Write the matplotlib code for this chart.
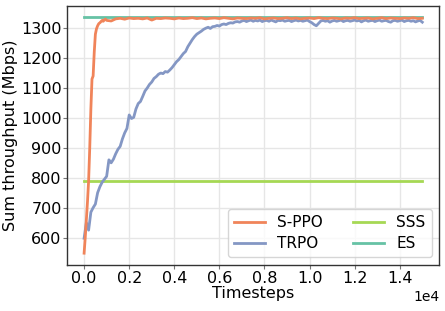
import numpy as np
import matplotlib
matplotlib.use("Agg")
import matplotlib.pyplot as plt
from matplotlib.ticker import MultipleLocator

# ---- data ----
sppo_steps_early = [0, 50, 100, 150, 200, 250, 300, 350, 400, 450, 500,
                    550, 600, 650, 700, 750, 800, 850, 900, 950, 1000]
sppo_early = [548, 600, 660, 720, 790, 900, 1030, 1130, 1140, 1220, 1280,
              1298, 1308, 1315, 1318, 1322, 1326, 1323, 1328, 1330, 1326]
sppo_steps_late = np.arange(1200, 15001, 200)
sppo_late = [1324, 1331, 1333, 1330, 1334, 1332, 1333, 1331, 1334, 1327,
             1333, 1332, 1334, 1333, 1331, 1334, 1332, 1333, 1335, 1332,
             1334, 1331, 1333, 1334, 1332, 1335, 1333, 1331, 1334, 1333,
             1332, 1334, 1333, 1335, 1331, 1333, 1334, 1332, 1333, 1335,
             1332, 1334, 1331, 1333, 1334, 1332, 1335, 1333, 1332, 1334,
             1333, 1331, 1334, 1333, 1335, 1332, 1333, 1334, 1331, 1333,
             1335, 1332, 1334, 1333, 1332, 1334, 1333, 1335, 1332, 1333]

trpo_steps = np.arange(0, 15001, 100)
trpo = [598, 650, 625, 685, 700, 712, 750, 770, 785, 795,
        805, 860, 850, 862, 880, 895, 905, 930, 950, 965,
        1010, 998, 1002, 1030, 1048, 1055, 1072, 1090, 1100, 1112,
        1120, 1132, 1138, 1146, 1150, 1148, 1155, 1153, 1160, 1168,
        1178, 1188, 1195, 1205, 1215, 1222, 1238, 1250, 1262, 1272,
        1280, 1285, 1290, 1296, 1300, 1303, 1299, 1305, 1306, 1309,
        1307, 1312, 1314, 1312, 1316, 1318, 1317, 1321, 1322, 1320,
        1324, 1326, 1322, 1325, 1327, 1323, 1326, 1324, 1327, 1322,
        1325, 1326, 1323, 1327, 1324, 1321, 1326, 1325, 1327, 1323,
        1325, 1326, 1322, 1325, 1327, 1324, 1326, 1323, 1325, 1327,
        1322, 1318, 1312, 1308, 1316, 1324, 1326, 1323, 1325, 1320,
        1324, 1326, 1323, 1325, 1327, 1322, 1325, 1326, 1323, 1325,
        1327, 1324, 1326, 1321, 1325, 1327, 1323, 1325, 1326, 1322,
        1325, 1327, 1323, 1325, 1326, 1322, 1320, 1325, 1326, 1323,
        1325, 1327, 1322, 1325, 1326, 1323, 1325, 1321, 1324, 1326,
        1320]

const_steps = [0, 15000]
sss = [790, 790]
es = [1336, 1336]

labels = ["S-PPO", "TRPO", "SSS", "ES"]
colors = ["#f0845a", "#8497c4", "#a6d854", "#66c2a5"]

# ---- plot ----
plt.rcParams['font.family'] = ['DejaVu Sans']
fig = plt.figure(figsize=(4.45, 3.11), dpi=100)
ax = fig.add_axes([0.151, 0.148, 0.836, 0.834])

sppo_x = np.concatenate([sppo_steps_early, sppo_steps_late])
sppo_y = np.concatenate([sppo_early, sppo_late])

lw = 2.0
h_es, = ax.plot(const_steps, es, color=colors[3], lw=lw, label=labels[3], zorder=2)
h_sss, = ax.plot(const_steps, sss, color=colors[2], lw=lw, label=labels[2], zorder=2)
h_trpo, = ax.plot(trpo_steps, trpo, color=colors[1], lw=lw, label=labels[1], zorder=3)
h_sppo, = ax.plot(sppo_x, sppo_y, color=colors[0], lw=lw, label=labels[0], zorder=4)

ax.xaxis.set_major_locator(MultipleLocator(2000))
ax.yaxis.set_major_locator(MultipleLocator(100))

ax.grid(True, color="#e6e6e6", lw=1.0)
ax.set_axisbelow(True)
for s in ax.spines.values():
    s.set_color("#333333")
    s.set_linewidth(1.0)

ax.ticklabel_format(style='sci', axis='x', scilimits=(0, 0))
ax.tick_params(labelsize=11.5, color="#777777", length=3, pad=1)
ax.xaxis.get_offset_text().set_fontsize(10)
ax.set_xlabel("Timesteps", fontsize=11.5, labelpad=0)
ax.set_ylabel("Sum throughput (Mbps)", fontsize=11.5, labelpad=2)

ax.legend([h_sppo, h_trpo, h_sss, h_es], labels, loc="lower right", ncol=2,
          fontsize=11, framealpha=0.8, borderaxespad=0.5,
          handlelength=2.0, columnspacing=2.0, labelspacing=0.4)

fig.savefig("out.png", dpi=100)
